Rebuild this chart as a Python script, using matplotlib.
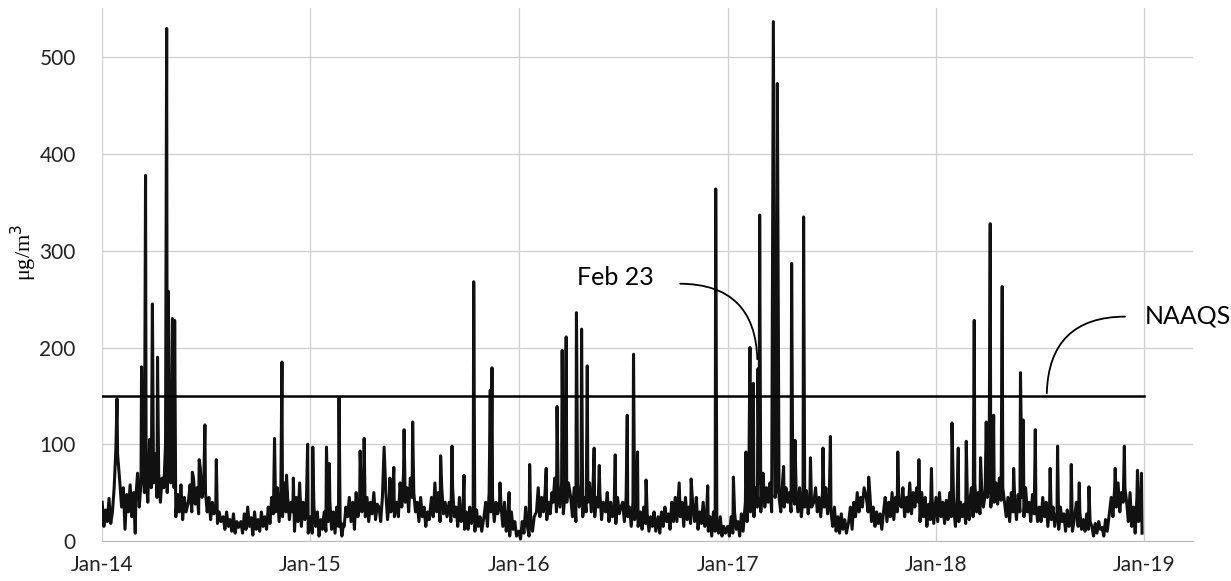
import pandas as pd
import matplotlib.pyplot as plt
import matplotlib.dates as mdates

# PM concentration, ug/m3 -- ten readings per month (days 1, 4, 7, ... 28)
pm_2014 = [40, 15, 32, 20, 44, 18, 30, 55, 95, 90,   60, 35, 55, 12, 48, 30, 58, 25, 50, 8,
           45, 70, 35, 60, 100, 50, 65, 40, 75, 55,  60, 90, 45, 70, 40, 65, 55, 100, 50, 80,
           60, 35, 55, 25, 48, 30, 58, 22, 45, 30,   40, 58, 30, 65, 38, 55, 28, 75, 45, 60,
           50, 30, 45, 22, 40, 28, 35, 18, 30, 20,   25, 12, 30, 15, 22, 10, 28, 8, 20, 14,
           20, 8, 28, 12, 35, 15, 24, 6, 30, 12,     22, 10, 30, 15, 25, 12, 35, 18, 45, 28,
           30, 55, 20, 50, 25, 60, 30, 45, 22, 40,   30, 10, 45, 20, 60, 15, 40, 22, 45, 8]
pm_2015 = [25, 8, 35, 15, 30, 5, 22, 12, 30, 10,     20, 40, 12, 30, 8, 35, 15, 22, 5, 18,
           15, 35, 25, 45, 20, 40, 12, 50, 25, 35,   30, 55, 25, 45, 20, 40, 28, 50, 22, 38,
           35, 20, 45, 25, 50, 22, 40, 30, 48, 25,   40, 25, 60, 35, 70, 40, 55, 30, 65, 45,
           50, 30, 40, 20, 45, 25, 35, 15, 30, 22,   45, 25, 60, 30, 50, 20, 55, 28, 40, 25,
           40, 20, 55, 25, 35, 15, 45, 20, 30, 12,   30, 12, 35, 18, 28, 10, 32, 15, 25, 10,
           25, 40, 15, 50, 30, 45, 20, 40, 28, 35,   35, 15, 40, 10, 25, 5, 30, 12, 20, 5]
pm_2016 = [10, 2, 20, 8, 35, 15, 5, 20, 10, 25,      30, 55, 25, 45, 30, 50, 22, 40, 28, 50,
           40, 65, 30, 55, 35, 60, 28, 50, 40, 60,   45, 25, 55, 20, 60, 35, 50, 25, 45, 30,
           40, 60, 30, 55, 25, 45, 35, 50, 22, 40,   30, 50, 20, 40, 25, 35, 18, 45, 28, 35,
           40, 20, 45, 25, 35, 15, 40, 22, 30, 15,   30, 12, 35, 18, 28, 10, 25, 15, 30, 10,
           25, 8, 30, 15, 35, 20, 28, 12, 40, 20,    45, 20, 50, 25, 40, 15, 45, 22, 35, 18,
           35, 20, 45, 12, 30, 18, 40, 15, 28, 10,   25, 5, 30, 10, 20, 8, 25, 5, 15, 8]
pm_2017 = [15, 5, 25, 8, 30, 12, 20, 5, 28, 10,      40, 20, 60, 30, 50, 25, 55, 35, 60, 30,
           45, 70, 35, 55, 40, 60, 30, 65, 45, 55,   45, 30, 60, 35, 55, 40, 50, 30, 58, 38,
           50, 30, 55, 25, 45, 35, 52, 28, 45, 35,   40, 55, 30, 45, 25, 50, 35, 55, 28, 45,
           30, 15, 35, 10, 25, 8, 28, 12, 22, 8,     20, 35, 12, 40, 25, 50, 30, 45, 35, 55,
           45, 30, 50, 20, 35, 15, 30, 18, 28, 12,   30, 45, 20, 40, 25, 50, 22, 45, 30, 40,
           35, 55, 25, 45, 30, 60, 28, 50, 35, 55,   40, 20, 50, 25, 45, 15, 38, 22, 45, 18]
pm_2018 = [45, 20, 50, 25, 40, 18, 42, 22, 50, 25,   35, 15, 45, 20, 40, 25, 38, 18, 42, 22,
           40, 55, 25, 60, 30, 50, 28, 55, 35, 48,   45, 70, 35, 55, 40, 60, 38, 65, 42, 55,
           40, 25, 45, 20, 50, 30, 42, 22, 48, 30,   45, 25, 55, 30, 40, 20, 48, 28, 38, 20,
           35, 20, 45, 25, 40, 15, 38, 22, 35, 15,   30, 12, 35, 20, 28, 10, 32, 15, 25, 10,
           25, 40, 15, 30, 12, 22, 10, 28, 12, 20,   15, 5, 18, 8, 20, 12, 14, 5, 22, 10,
           30, 45, 25, 55, 35, 60, 30, 50, 40, 55,   40, 20, 50, 15, 35, 8, 45, 20, 30, 8]

# peak days
spike_dates = ["2014-01-27", "2014-03-11", "2014-03-18", "2014-03-25", "2014-03-30", "2014-04-08",
               "2014-04-24", "2014-04-27", "2014-05-04", "2014-05-08", "2014-06-08", "2014-06-20",
               "2014-06-30", "2014-07-20", "2014-10-30", "2014-11-12", "2014-11-20", "2014-12-02",
               "2014-12-27",
               "2015-01-05", "2015-01-29", "2015-02-03", "2015-02-20", "2015-03-29", "2015-04-05",
               "2015-05-10", "2015-05-20", "2015-05-27", "2015-06-14", "2015-06-29", "2015-08-17",
               "2015-09-06", "2015-09-27", "2015-10-14", "2015-11-12", "2015-11-15", "2015-11-29",
               "2015-12-15",
               "2016-01-20", "2016-02-18", "2016-03-08", "2016-03-17", "2016-03-24", "2016-04-11",
               "2016-04-20", "2016-04-30", "2016-05-12", "2016-05-21", "2016-06-18", "2016-07-09",
               "2016-07-20", "2016-07-27", "2016-08-11", "2016-10-08", "2016-10-29", "2016-11-27",
               "2016-12-11",
               "2017-01-11", "2017-02-02", "2017-02-09", "2017-02-15", "2017-02-23", "2017-02-26",
               "2017-03-22", "2017-03-29", "2017-04-09", "2017-04-23", "2017-04-29", "2017-05-14",
               "2017-05-26", "2017-06-17", "2017-06-30", "2017-09-05", "2017-10-26", "2017-12-02",
               "2017-12-24",
               "2018-01-29", "2018-02-09", "2018-02-23", "2018-03-09", "2018-03-20", "2018-03-30",
               "2018-04-06", "2018-04-12", "2018-04-27", "2018-05-17", "2018-05-29", "2018-06-03",
               "2018-06-24", "2018-07-20", "2018-08-02", "2018-08-26", "2018-09-09", "2018-09-26",
               "2018-11-11", "2018-11-27", "2018-12-20", "2018-12-27"]
spike_vals = [147, 180, 378, 105, 245, 190,
              530, 258, 230, 228, 71, 84,
              120, 84, 106, 185, 68, 65,
              100,
              97, 97, 80, 148, 93, 106,
              97, 65, 76, 115, 123, 88,
              98, 68, 268, 156, 179, 60,
              50,
              79, 75, 139, 197, 211, 236,
              219, 181, 96, 78, 89, 130,
              193, 92, 63, 60, 64, 57,
              364,
              66, 92, 200, 163, 178, 337,
              537, 473, 77, 287, 104, 335,
              86, 96, 108, 66, 92, 84,
              75,
              122, 96, 103, 228, 86, 123,
              328, 130, 263, 75, 174, 125,
              115, 75, 98, 79, 60, 56,
              75, 98, 73, 70]

naaqs = 150

# build the series
years = [2014, 2015, 2016, 2017, 2018]
yearly = [pm_2014, pm_2015, pm_2016, pm_2017, pm_2018]
dates, vals = [], []
for yr, v in zip(years, yearly):
    for i, val in enumerate(v):
        m, k = divmod(i, 10)
        dates.append(pd.Timestamp(yr, m + 1, 1 + 3 * k))
        vals.append(val)
base = pd.Series(vals, index=dates)
spikes = pd.Series(spike_vals, index=pd.to_datetime(spike_dates))
pm = pd.concat([base, spikes])
pm = pm[~pm.index.duplicated(keep="last")].sort_index()

fig = plt.figure(figsize=(12.31, 5.81), dpi=100)
ax = fig.add_axes([0.083, 0.069, 0.886, 0.917])

ax.plot(pm.index, pm.values, color="#111111", lw=2.2, zorder=3)
ax.plot([pd.Timestamp("2014-01-01"), pd.Timestamp("2019-01-01")], [naaqs, naaqs],
        color="black", lw=1.8, zorder=4)

ax.set_xlim(pd.Timestamp("2014-01-01"), pd.Timestamp("2019-03-27"))
ax.set_ylim(0, 551)
ax.xaxis.set_major_locator(mdates.YearLocator())
ax.xaxis.set_major_formatter(mdates.DateFormatter("%b-%y"))
ax.set_yticks([0, 100, 200, 300, 400, 500])

ax.grid(True, color="#cfcfcf", lw=0.9)
ax.set_axisbelow(True)
for s in ["top", "right", "left"]:
    ax.spines[s].set_visible(False)
ax.spines["bottom"].set_color("#bdbdbd")
ax.tick_params(length=0, labelsize=15, colors="#222222")
ax.tick_params(axis="y", pad=19)
ax.tick_params(axis="x", pad=10)
for lab in ax.get_xticklabels() + ax.get_yticklabels():
    lab.set_family("Lato")

fig.text(24 / 1231, 1 - 252 / 581, "μg/m$^3$", family="Liberation Serif", fontsize=16,
         rotation=90, ha="center", va="center")

# annotations
ax.text(pd.Timestamp("2016-06-19"), 272, "Feb 23", fontsize=18, family="Lato",
        ha="center", va="center")
ax.annotate("", xy=(pd.Timestamp("2017-02-22"), 185), xytext=(pd.Timestamp("2016-10-05"), 266),
            arrowprops=dict(arrowstyle="-", connectionstyle="arc3,rad=-0.5", lw=1.3, color="black"))
ax.text(pd.Timestamp("2019-01-01"), 233, "NAAQS", fontsize=18, family="Lato",
        ha="left", va="center", clip_on=False)
ax.annotate("", xy=(pd.Timestamp("2018-07-14"), naaqs), xytext=(pd.Timestamp("2018-12-03"), 232),
            arrowprops=dict(arrowstyle="-", connectionstyle="arc3,rad=0.5", lw=1.3, color="black"))

fig.savefig("out.png", dpi=100)
